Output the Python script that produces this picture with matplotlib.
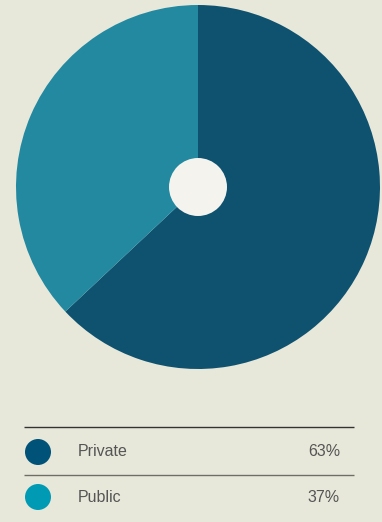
import matplotlib
matplotlib.use("Agg")
import matplotlib.pyplot as plt
from matplotlib.patches import Circle

labels = ["Private", "Public"]
values = [63, 37]
slice_colors = ["#0E5270", "#2289A0"]
dot_colors = ["#005278", "#009AB5"]

bg = "#E8E8DA"
fig = plt.figure(figsize=(3.82, 5.22), dpi=100, facecolor=bg)
ax = fig.add_axes([0, 0, 1, 1])
ax.set_facecolor(bg)

cx, cy, r = 198, 187, 182
ax.pie(values, colors=slice_colors, startangle=90, counterclock=False,
       center=(cx, -cy), radius=r, wedgeprops=dict(linewidth=0),
       frame=False)
ax.set_xlim(0, 382)
ax.set_ylim(-522, 0)
ax.set_aspect("equal")
ax.axis("off")
ax.add_patch(Circle((cx, -cy), 29, color="#F4F3EE", zorder=5, lw=0))

row_y = [452, 497]
line_y = [427, 475]
line_cols = ["#333333", "#6E6E66"]
for ly, lc in zip(line_y, line_cols):
    ax.plot([24, 354], [-ly, -ly], color=lc, lw=1.0, solid_capstyle="butt")
for y, lab, v, dc in zip(row_y, labels, values, dot_colors):
    ax.add_patch(Circle((38, -y), 13, color=dc, lw=0))
    ax.text(78, -y, lab, fontsize=11.5, color="#555555", va="center", ha="left",
            family="Liberation Sans")
    ax.text(340, -y, f"{v}%", fontsize=11.5, color="#555555", va="center", ha="right",
            family="Liberation Sans")

fig.savefig("out.png", dpi=100, facecolor=bg)
